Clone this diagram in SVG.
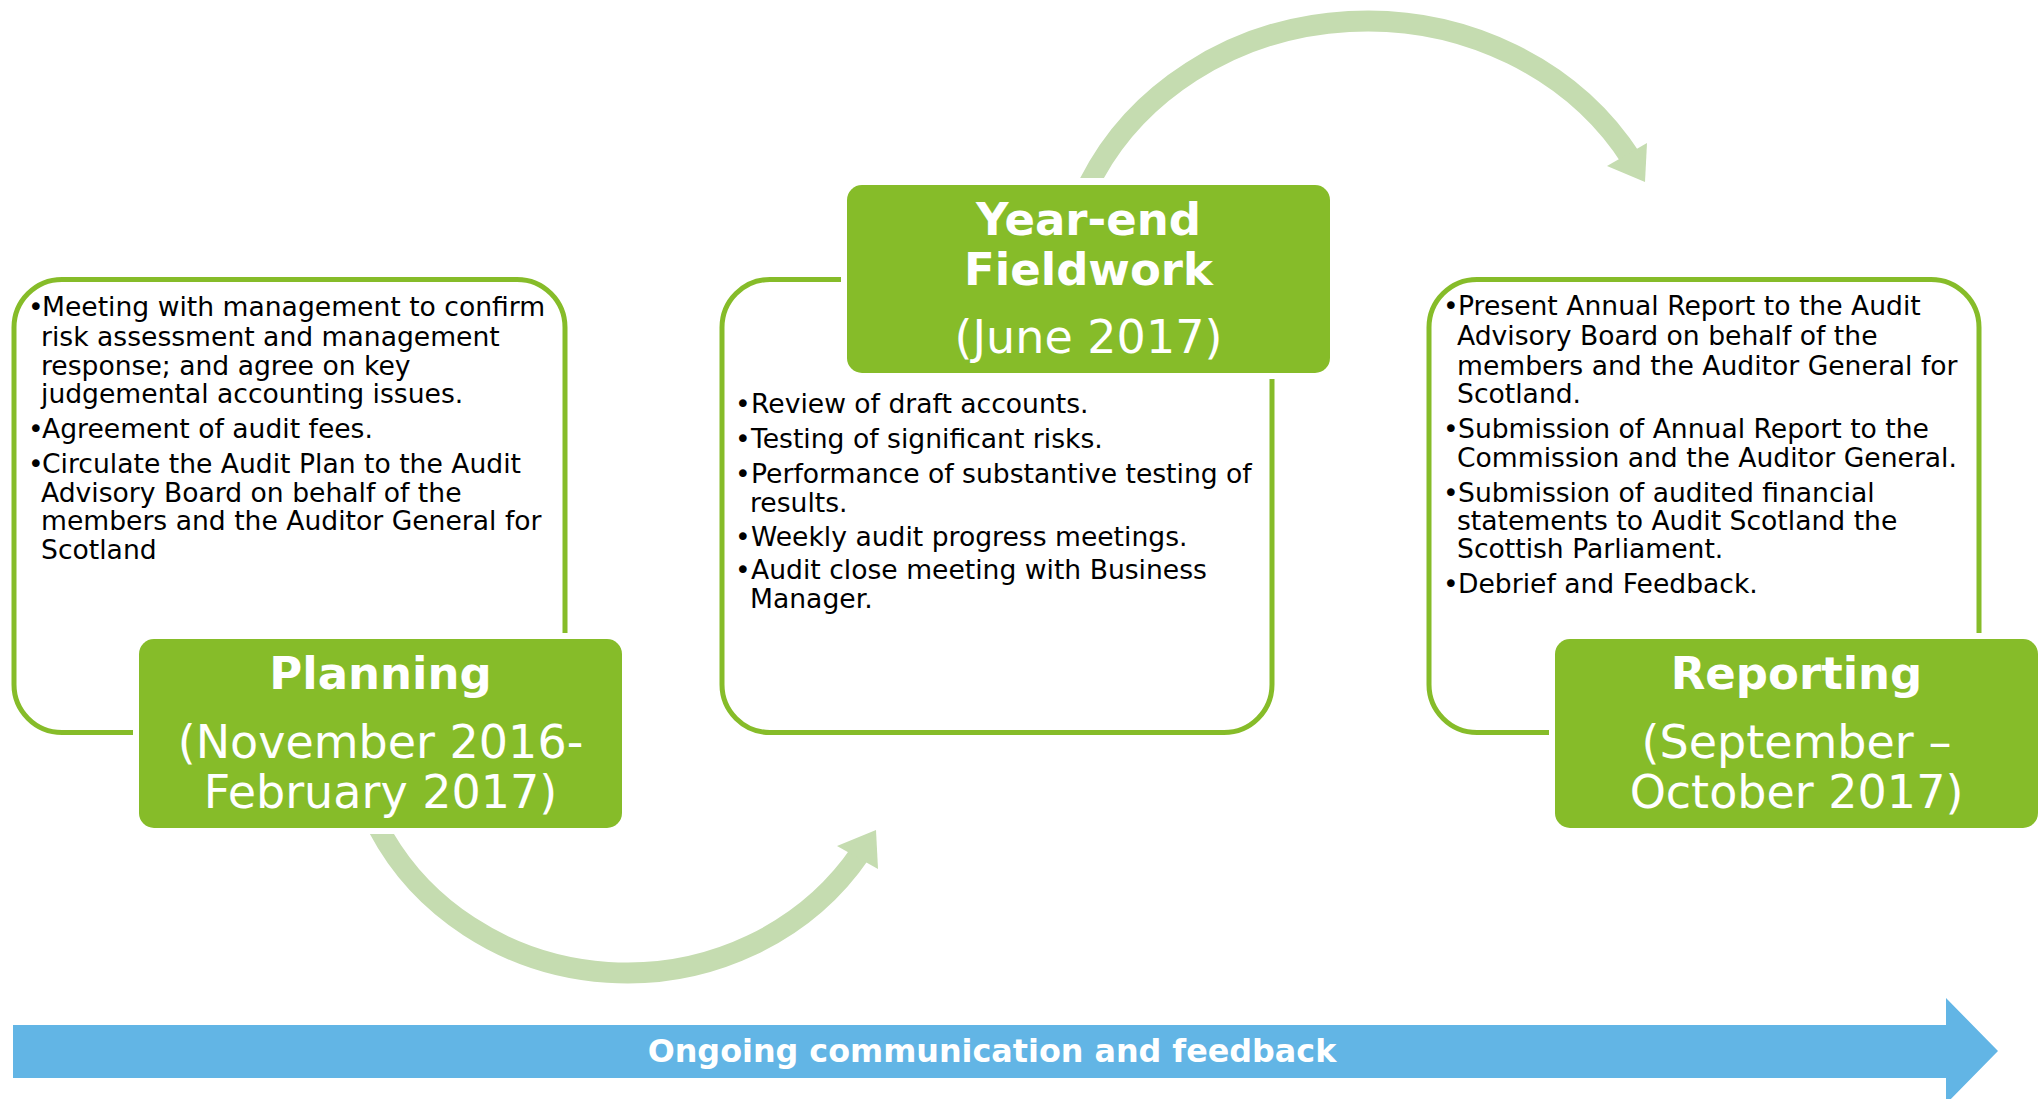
<svg xmlns="http://www.w3.org/2000/svg" width="2038" height="1099" viewBox="0 0 2038 1099">
<defs>
<style>
.outline{fill:none;stroke:#86bc29;stroke-width:5}
.box{fill:#86bc29;stroke:#ffffff;stroke-width:12;paint-order:stroke}
.title{font-family:"DejaVu Sans","Verdana",sans-serif;font-weight:bold;font-size:45px;fill:#ffffff;text-anchor:middle}
.date{font-family:"DejaVu Sans","Verdana",sans-serif;font-size:46px;fill:#ffffff;text-anchor:middle}
.body{font-family:"DejaVu Sans","Verdana",sans-serif;font-size:26.6px;fill:#000000}
.arc{fill:none;stroke:#c5dcb0;stroke-width:21}
.archead{fill:#c5dcb0}
.banner{font-family:"DejaVu Sans","Verdana",sans-serif;font-weight:bold;font-size:31.8px;fill:#ffffff;text-anchor:middle}
</style>
<clipPath id="clipTop"><rect x="1000" y="0" width="800" height="178"/></clipPath>
<clipPath id="clipBottom"><rect x="300" y="833" width="700" height="200"/></clipPath>
</defs>
<rect width="2038" height="1099" fill="#ffffff"/>

<g id="connectors">
<path class="arc" clip-path="url(#clipTop)" d="M 1086 190 A 306 279 0 0 1 1632 160"/>
<polygon class="archead" points="1607,166 1647,143 1645,182"/>
<path class="arc" clip-path="url(#clipBottom)" d="M 374.5 820 A 278 263 0 0 0 861 852"/>
<polygon class="archead" points="837,846 878,869 876,830"/>
</g>

<g id="planning">
<rect class="outline" x="14" y="279.5" width="551" height="453" rx="48"/>
<rect class="box" x="139" y="639" width="483" height="189" rx="15"/>
<text class="title" x="380.5" y="689">Planning</text>
<text class="date" x="380.5" y="758">(November 2016-</text>
<text class="date" x="380.5" y="808">February 2017)</text>
<text class="body" y="316"><tspan x="28">•</tspan><tspan x="42">Meeting with management to confirm</tspan></text>
<text class="body" x="41" y="346">risk assessment and management</text>
<text class="body" x="41" y="375">response; and agree on key</text>
<text class="body" x="41" y="403">judgemental accounting issues.</text>
<text class="body" y="438"><tspan x="28">•</tspan><tspan x="42">Agreement of audit fees.</tspan></text>
<text class="body" y="473"><tspan x="28">•</tspan><tspan x="42">Circulate the Audit Plan to the Audit</tspan></text>
<text class="body" x="41" y="502">Advisory Board on behalf of the</text>
<text class="body" x="41" y="530">members and the Auditor General for</text>
<text class="body" x="41" y="559">Scotland</text>
</g>

<g id="yearend">
<rect class="outline" x="722" y="279.5" width="550" height="453" rx="48"/>
<rect class="box" x="847" y="185" width="483" height="188" rx="15"/>
<text class="title" x="1088.5" y="235">Year-end</text>
<text class="title" x="1088.5" y="285">Fieldwork</text>
<text class="date" x="1088.5" y="353">(June 2017)</text>
<text class="body" y="413"><tspan x="735">•</tspan><tspan x="751">Review of draft accounts.</tspan></text>
<text class="body" y="448"><tspan x="735">•</tspan><tspan x="751">Testing of significant risks.</tspan></text>
<text class="body" y="483"><tspan x="735">•</tspan><tspan x="751">Performance of substantive testing of</tspan></text>
<text class="body" x="750" y="512">results.</text>
<text class="body" y="546"><tspan x="735">•</tspan><tspan x="751">Weekly audit progress meetings.</tspan></text>
<text class="body" y="579"><tspan x="735">•</tspan><tspan x="751">Audit close meeting with Business</tspan></text>
<text class="body" x="750" y="608">Manager.</text>
</g>

<g id="reporting">
<rect class="outline" x="1429" y="279.5" width="550" height="453" rx="48"/>
<rect class="box" x="1555" y="639" width="483" height="189" rx="15"/>
<text class="title" x="1796.5" y="689">Reporting</text>
<text class="date" x="1796.5" y="758">(September –</text>
<text class="date" x="1796.5" y="808">October 2017)</text>
<text class="body" y="315"><tspan x="1443">•</tspan><tspan x="1458">Present Annual Report to the Audit</tspan></text>
<text class="body" x="1457" y="345">Advisory Board on behalf of the</text>
<text class="body" x="1457" y="375">members and the Auditor General for</text>
<text class="body" x="1457" y="403">Scotland.</text>
<text class="body" y="438"><tspan x="1443">•</tspan><tspan x="1458">Submission of Annual Report to the</tspan></text>
<text class="body" x="1457" y="467">Commission and the Auditor General.</text>
<text class="body" y="502"><tspan x="1443">•</tspan><tspan x="1458">Submission of audited financial</tspan></text>
<text class="body" x="1457" y="530">statements to Audit Scotland the</text>
<text class="body" x="1457" y="558">Scottish Parliament.</text>
<text class="body" y="593"><tspan x="1443">•</tspan><tspan x="1458">Debrief and Feedback.</tspan></text>
</g>

<g id="ongoing">
<polygon fill="#62b5e5" points="13,1025 1946,1025 1946,998 1998,1051 1946,1104 1946,1078 13,1078"/>
<text class="banner" x="992" y="1062">Ongoing communication and feedback</text>
</g>
</svg>
